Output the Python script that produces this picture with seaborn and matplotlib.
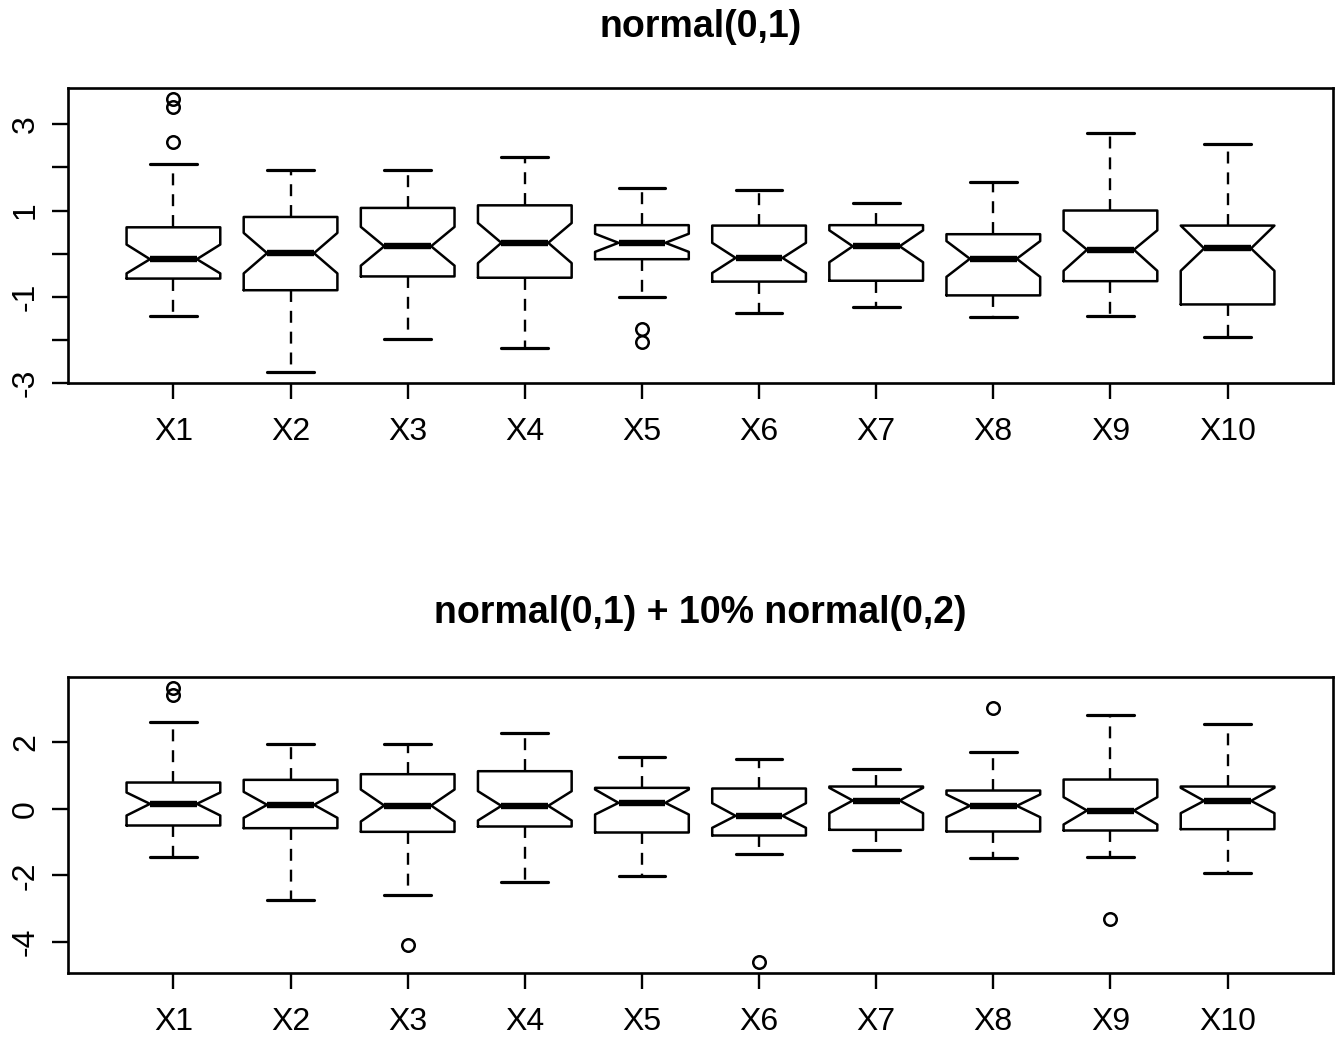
import numpy as np
import matplotlib
matplotlib.use("Agg")
import matplotlib.pyplot as plt
import seaborn as sns

# ---------------- data ----------------
labels = ["X1", "X2", "X3", "X4", "X5", "X6", "X7", "X8", "X9", "X10"]

title_top = "normal(0,1)"
top_whishi = [2.08, 1.94, 1.94, 2.25, 1.53, 1.48, 1.17, 1.67, 2.79, 2.55]
top_q3     = [0.61, 0.85, 1.06, 1.12, 0.66, 0.65, 0.66, 0.45, 1.00, 0.65]
top_cihi   = [0.21, 0.48, 0.62, 0.71, 0.46, 0.25, 0.54, 0.29, 0.54, 0.65]
top_med    = [-0.13, 0.01, 0.17, 0.25, 0.25, -0.10, 0.17, -0.12, 0.09, 0.12]
top_cilo   = [-0.46, -0.46, -0.28, -0.22, 0.04, -0.45, -0.20, -0.54, -0.40, -0.40]
top_q1     = [-0.58, -0.85, -0.53, -0.56, -0.13, -0.65, -0.63, -0.97, -0.64, -1.18]
top_whislo = [-1.46, -2.75, -1.98, -2.20, -1.00, -1.37, -1.25, -1.48, -1.44, -1.94]
top_fliers = [[3.59, 3.41, 2.58], [], [], [], [-1.74, -2.05], [], [], [], [], []]

title_bot = "normal(0,1) + 10% normal(0,2)"
bot_whishi = [2.60, 1.96, 1.96, 2.28, 1.55, 1.50, 1.21, 1.70, 2.81, 2.56]
bot_q3     = [0.79, 0.87, 1.04, 1.13, 0.63, 0.61, 0.67, 0.55, 0.88, 0.67]
bot_cihi   = [0.49, 0.51, 0.58, 0.53, 0.58, 0.17, 0.63, 0.43, 0.35, 0.63]
bot_med    = [0.15, 0.12, 0.10, 0.09, 0.18, -0.21, 0.25, 0.09, -0.05, 0.24]
bot_cilo   = [-0.20, -0.27, -0.38, -0.35, -0.17, -0.57, -0.13, -0.25, -0.47, -0.13]
bot_q1     = [-0.50, -0.58, -0.69, -0.53, -0.71, -0.80, -0.63, -0.68, -0.65, -0.61]
bot_whislo = [-1.46, -2.75, -2.58, -2.20, -2.01, -1.36, -1.25, -1.48, -1.44, -1.93]
bot_fliers = [[3.62, 3.42], [], [-4.09], [], [], [-4.59], [], [3.04], [-3.32], []]

top_yticks = [-3, -2, -1, 0, 1, 2, 3]
top_yticklabels = ["-3", "", "-1", "", "1", "", "3"]
bot_yticks = [-4, -2, 0, 2]
bot_yticklabels = ["-4", "-2", "0", "2"]

# ---------------- style ----------------
sns.set_theme(style="ticks")
plt.rcParams["font.family"] = ["Liberation Sans", "DejaVu Sans"]
plt.rcParams["lines.scale_dashes"] = False

fig = plt.figure(figsize=(13.38, 10.38), dpi=100)
W, H = 1338, 1038


def make_stats(whislo, q1, cilo, med, cihi, q3, whishi, fliers):
    stats = []
    for i in range(len(labels)):
        stats.append(dict(label=labels[i], whislo=whislo[i], q1=q1[i],
                          cilo=cilo[i], med=med[i], cihi=cihi[i], q3=q3[i],
                          whishi=whishi[i], fliers=np.array(fliers[i])))
    return stats


def panel(rect, stats, title, yticks, yticklabels, title_y):
    ax = fig.add_axes(rect)
    positions = list(range(1, len(labels) + 1))
    ax.bxp(stats, positions=positions, widths=0.8, capwidths=0.4,
           shownotches=True, showfliers=True,
           boxprops=dict(color="black", linewidth=1.8),
           whiskerprops=dict(color="black", linewidth=1.7,
                             linestyle=(0, (8.6, 6.4))),
           capprops=dict(color="black", linewidth=2.3),
           medianprops=dict(color="black", linewidth=4.6,
                            solid_capstyle="butt"),
           flierprops=dict(marker="o", markerfacecolor="none",
                           markeredgecolor="black", markersize=9,
                           markeredgewidth=1.8, linestyle="none"))
    vals = []
    for s in stats:
        vals += [s["whislo"], s["whishi"]] + list(s["fliers"])
    lo, hi = min(vals), max(vals)
    pad = 0.04 * (hi - lo)
    ax.set_ylim(lo - pad, hi + pad)
    ax.set_xlim(0.5 - 0.4, len(labels) + 0.5 + 0.4)
    ax.set_xticks(positions)
    ax.set_xticklabels(labels)
    ax.set_yticks(yticks)
    ax.set_yticklabels(yticklabels)
    for sp in ax.spines.values():
        sp.set_visible(True)
        sp.set_color("black")
        sp.set_linewidth(1.9)
    ax.tick_params(axis="both", direction="out", length=11.5, width=1.7,
                   color="black", labelsize=23, labelcolor="black")
    ax.tick_params(axis="x", pad=13)
    ax.tick_params(axis="y", pad=8, labelrotation=90)
    for t in ax.get_yticklabels():
        t.set_va("center")
    ax.set_facecolor("white")
    ax.grid(False)
    cx = rect[0] + rect[2] / 2
    fig.text(cx, title_y, title, ha="center", va="baseline",
             fontsize=27, fontweight="bold", color="black")
    return ax


top_rect = [68 / W, 1 - 383 / H, (1333 - 68) / W, (383 - 88) / H]
bot_rect = [68 / W, 1 - 972.7 / H, (1333 - 68) / W, (972.7 - 677.3) / H]

panel(top_rect,
      make_stats(top_whislo, top_q1, top_cilo, top_med, top_cihi, top_q3,
                 top_whishi, top_fliers),
      title_top, top_yticks, top_yticklabels, 1 - 37 / H)
panel(bot_rect,
      make_stats(bot_whislo, bot_q1, bot_cilo, bot_med, bot_cihi, bot_q3,
                 bot_whishi, bot_fliers),
      title_bot, bot_yticks, bot_yticklabels, 1 - 623 / H)

fig.savefig("out.png", dpi=100, facecolor="white")
